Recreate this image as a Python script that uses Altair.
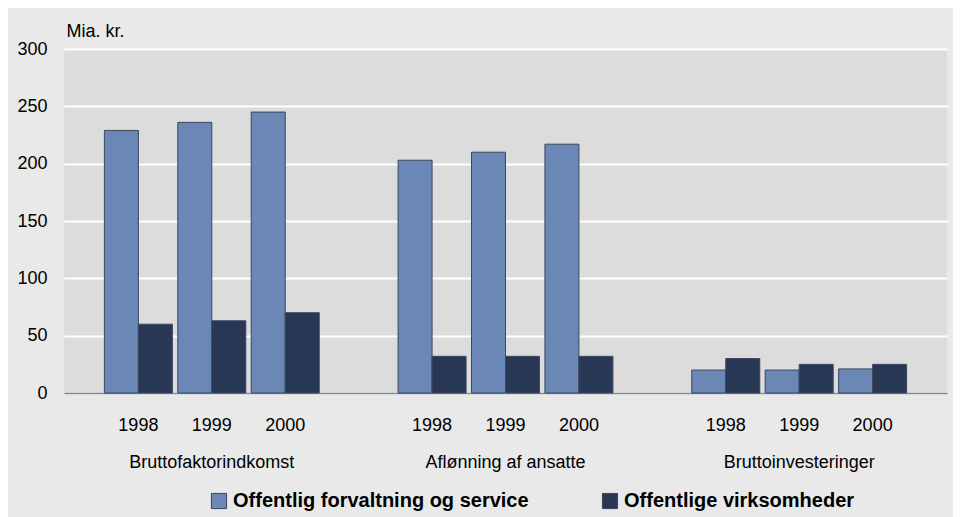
import altair as alt
import pandas as pd

groups = ["Bruttofaktorindkomst", "Aflønning af ansatte", "Bruttoinvesteringer"]
years = ["1998", "1999", "2000"]
series = ["Offentlig forvaltning og service", "Offentlige virksomheder"]
forvaltning = [229, 236, 245, 203, 210, 217, 20, 20, 21]
virksomheder = [60, 63, 70, 32, 32, 32, 30, 25, 25]

slot_domain = []
rows = []
k = 0
for gi, g in enumerate(groups):
    for y in years:
        slot = f"{y}_{gi}"
        slot_domain.append(slot)
        rows.append({"slot": slot, "serie": series[0], "value": forvaltning[k]})
        rows.append({"slot": slot, "serie": series[1], "value": virksomheder[k]})
        k += 1
    if gi < len(groups) - 1:
        slot_domain.append(f"gap_{gi}")
df = pd.DataFrame(rows)
labels_df = pd.DataFrame({"slot": [f"1999_{i}" for i in range(3)], "label": groups})

FONT = "Liberation Sans"
W, H = 883, 344

x_scale = alt.Scale(domain=slot_domain, paddingInner=0.074, paddingOuter=0.55)

bars = alt.Chart(df).mark_bar(stroke="#3b465e", strokeWidth=1).encode(
    x=alt.X("slot:N", scale=x_scale, sort=slot_domain,
            axis=alt.Axis(title=None, ticks=False, labelAngle=0, labelPadding=23,
                          labelExpr="indexof(datum.label,'gap')>=0 ? '' : substring(datum.label,0,4)",
                          domainColor="#7a879c", domainWidth=1.5, grid=False)),
    xOffset=alt.XOffset("serie:N", sort=series, scale=alt.Scale(paddingInner=0, paddingOuter=0)),
    y=alt.Y("value:Q", scale=alt.Scale(domain=[0, 300]),
            axis=alt.Axis(title="Mia. kr.", titleAngle=0, titleAlign="left", titleBaseline="bottom",
                          titleX=2, titleY=-9, titleFontWeight="normal", titleFont=FONT,
                          titleFontSize=18, titleColor="#000000",
                          values=[0, 50, 100, 150, 200, 250, 300], ticks=False, domain=False,
                          labelPadding=17, gridColor="#ffffff", gridWidth=2)),
    color=alt.Color("serie:N", sort=series,
                    scale=alt.Scale(domain=series, range=["#6a87b6", "#283754"]),
                    legend=alt.Legend(title=None, orient="none", direction="horizontal",
                                      legendX=145, legendY=442, symbolType="square",
                                      symbolSize=230, symbolStrokeColor="#3b465e",
                                      symbolStrokeWidth=1, symbolOpacity=1,
                                      labelFont=FONT, labelFontSize=20, labelFontWeight="bold",
                                      labelColor="#000000", columnPadding=71, labelLimit=500)),
)

group_text = alt.Chart(labels_df).mark_text(font=FONT, fontSize=18, color="#000000",
                                            baseline="middle").encode(
    x=alt.X("slot:N", scale=x_scale, sort=slot_domain),
    y=alt.value(H + 70),
    text="label:N",
)

chart = alt.layer(bars, group_text).properties(
    width=W, height=H, background="#e9e9e9",
    padding={"left": 8, "top": 14, "right": 6, "bottom": 10},
).configure_view(fill="#dcdcdc", stroke=None).configure_axis(
    labelFont=FONT, labelFontSize=18, labelColor="#000000"
)

chart.save("out.html", embed_options={"renderer": "svg", "actions": False})
